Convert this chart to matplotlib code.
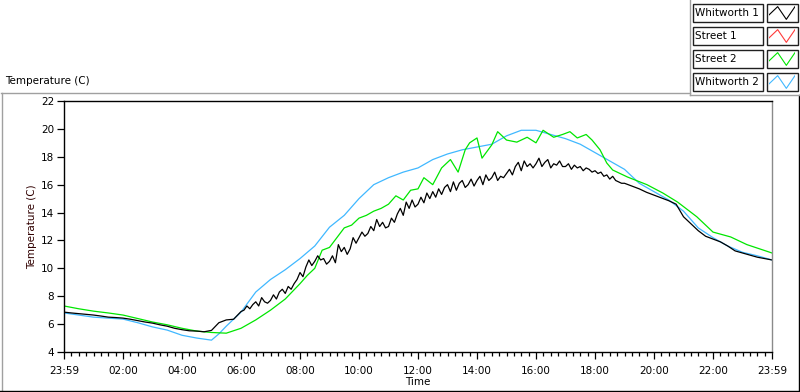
import numpy as np
import matplotlib
matplotlib.use("Agg")
import matplotlib.pyplot as plt
from matplotlib.lines import Line2D
from matplotlib.patches import Rectangle
from matplotlib.ticker import MultipleLocator

# Donnees (heures depuis 23:59, temperature en C)
t_w1 = [0, 0.25, 0.5, 0.75, 1, 1.25, 1.5, 1.75, 2, 2.25, 2.5, 2.75, 3, 3.25, 3.5, 3.75,
        4, 4.25, 4.5, 4.75, 5, 5.25, 5.5, 5.75] + \
       list(np.round(np.arange(6, 19, 0.1), 2)) + \
       [19, 19.25, 19.5, 19.75, 20, 20.25, 20.5, 20.75, 21, 21.25, 21.5, 21.75,
        22, 22.25, 22.5, 22.75, 23, 23.25, 23.5, 23.75, 24]
whitworth1 = [6.86, 6.8, 6.75, 6.7, 6.65, 6.58, 6.5, 6.47, 6.43, 6.35, 6.25, 6.15, 6.07, 5.95, 5.85, 5.7,
              5.6, 5.52, 5.5, 5.45, 5.55, 6.1, 6.3, 6.35,
              6.9, 7.0, 7.3, 7.1, 7.4, 7.6, 7.3, 7.9, 7.6, 7.5,
              7.7, 8.1, 7.8, 8.3, 8.5, 8.2, 8.7, 8.5, 8.9, 9.2,
              9.7, 9.4, 10.1, 10.6, 10.2, 10.5, 10.9, 10.6, 10.7, 10.3,
              10.5, 10.9, 10.4, 11.7, 11.2, 11.5, 11.0, 11.4, 12.2, 11.8,
              12.2, 12.6, 12.3, 12.5, 13.0, 12.7, 13.5, 13.0, 13.3, 12.9,
              13.0, 13.6, 13.3, 13.9, 14.3, 13.8, 14.75, 14.3, 14.9, 14.4,
              14.6, 15.1, 14.7, 15.4, 15.0, 15.5, 15.1, 15.7, 15.3, 15.8,
              16.0, 15.5, 16.2, 15.6, 16.1, 16.3, 15.8, 16.0, 16.4, 15.9,
              16.3, 16.6, 16.0, 16.7, 16.3, 16.5, 16.9, 16.3, 16.6, 16.5,
              16.8, 17.1, 16.7, 17.3, 17.6, 17.0, 17.7, 17.3, 17.5, 17.2,
              17.5, 17.9, 17.3, 17.6, 17.8, 17.2, 17.5, 17.4, 17.7, 17.3,
              17.3, 17.5, 17.1, 17.4, 17.2, 17.3, 17.0, 17.2, 17.1, 16.9,
              17.0, 16.8, 16.9, 16.6, 16.7, 16.4, 16.6, 16.3, 16.2, 16.1,
              16.1, 15.9, 15.7, 15.45, 15.25, 15.05, 14.85, 14.6, 13.7, 13.2, 12.7, 12.3,
              12.1, 11.9, 11.6, 11.25, 11.1, 10.95, 10.8, 10.7, 10.6]

t_s1 = []
street1 = []

t_s2 = [0, 0.5, 1, 1.5, 2, 2.5, 3, 3.5, 4, 4.5, 5, 5.5, 6, 6.5, 7, 7.5, 8, 8.25, 8.5, 8.75,
        9, 9.25, 9.5, 9.75, 10, 10.25, 10.5, 10.75, 11, 11.25, 11.5, 11.75, 12, 12.2, 12.5,
        12.8, 13.1, 13.36, 13.6, 13.75, 14, 14.17, 14.5, 14.7, 15, 15.35, 15.7, 16, 16.24,
        16.6, 16.9, 17.15, 17.4, 17.7, 17.9, 18.17, 18.4, 18.6, 19.1, 19.76, 20.3, 20.8,
        21.45, 22, 22.6, 23.15, 24]
street2 = [7.3, 7.1, 6.93, 6.8, 6.65, 6.4, 6.15, 5.95, 5.7, 5.5, 5.4, 5.35, 5.7, 6.3, 7.0, 7.8,
           8.9, 9.5, 10.0, 11.3, 11.5, 12.2, 12.9, 13.1, 13.6, 13.8, 14.1, 14.3, 14.6, 15.2,
           14.9, 15.6, 15.7, 16.5, 16.0, 17.2, 17.8, 16.9, 18.5, 19.0, 19.35, 17.9, 18.85,
           19.8, 19.2, 19.05, 19.4, 19.0, 19.9, 19.4, 19.6, 19.8, 19.35, 19.6, 19.2, 18.5,
           17.55, 17.05, 16.55, 16.0, 15.4, 14.75, 13.7, 12.6, 12.25, 11.7, 11.1]

t_w2 = [0, 0.5, 1, 1.5, 2, 2.5, 3, 3.5, 4, 4.5, 5, 5.25, 5.5, 6, 6.5, 7, 7.5, 8, 8.5, 9,
        9.5, 10, 10.5, 11, 11.5, 12, 12.5, 13, 13.5, 14, 14.5, 15, 15.5, 16, 16.5, 17,
        17.5, 18, 18.5, 19, 19.5, 20, 20.5, 21, 21.5, 22, 22.5, 23, 23.5, 24]
whitworth2 = [6.8, 6.65, 6.5, 6.43, 6.36, 6.1, 5.8, 5.57, 5.2, 5.0, 4.85, 5.3, 5.85, 6.86,
              8.3, 9.2, 9.9, 10.7, 11.6, 12.95, 13.8, 15.0, 16.0, 16.5, 16.9, 17.2, 17.8,
              18.2, 18.5, 18.7, 18.9, 19.5, 19.9, 19.9, 19.6, 19.3, 18.9, 18.3, 17.7, 17.1,
              16.1, 15.5, 14.9, 14.1, 12.9, 12.2, 11.6, 11.15, 10.9, 10.6]

series = [("Whitworth 1", t_w1, whitworth1, "#000000"),
          ("Street 1", t_s1, street1, "#ff3b3b"),
          ("Street 2", t_s2, street2, "#00e600"),
          ("Whitworth 2", t_w2, whitworth2, "#40b8ff")]

tick_hours = list(range(0, 25, 2))
tick_labels = ["23:59", "02:00", "04:00", "06:00", "08:00", "10:00", "12:00",
               "14:00", "16:00", "18:00", "20:00", "22:00", "23:59"]

plt.rcParams["font.family"] = ["DejaVu Sans"]

fig = plt.figure(figsize=(8, 3.92), dpi=100)
ax = fig.add_axes([64 / 800, 1 - 352 / 392, 708 / 800, 251 / 392])

# ordre de trace : bleu, vert, rouge, noir par-dessus
for nom, t, v, c in [series[3], series[2], series[1], series[0]]:
    ax.plot(t, v, color=c, linewidth=0.9)

ax.set_xlim(0, 24)
ax.set_ylim(4, 22)
ax.set_xticks(tick_hours)
ax.set_xticklabels(tick_labels)
ax.xaxis.set_minor_locator(MultipleLocator(0.25))
ax.yaxis.set_major_locator(MultipleLocator(2))
ax.tick_params(axis="both", which="major", length=5, width=0.9, labelsize=7.5, pad=2)
ax.tick_params(axis="x", which="minor", length=3, width=0.9)
ax.tick_params(axis="x", which="major", pad=5)
for s in ["top", "left", "bottom"]:
    ax.spines[s].set_color("black")
ax.spines["right"].set_color("#8a8a8a")
for s in ax.spines.values():
    s.set_linewidth(1.0)
ax.set_xlabel("Time", fontsize=7.5, labelpad=1)
ax.set_ylabel("Temperature (C)", fontsize=7.5, labelpad=3, color="#300000")

# cadre et titre facon LabVIEW
fig.text(5 / 800, 1 - 81 / 392, "Temperature (C)", fontsize=7.5, va="center", ha="left")
fig.add_artist(Line2D([1 / 800, 690 / 800], [1 - 92.5 / 392] * 2, color="#a0a0a0", lw=1))
fig.add_artist(Line2D([1.5 / 800] * 2, [1 - 92.5 / 392, 1 - 391 / 392], color="#a0a0a0", lw=1))
fig.add_artist(Line2D([0, 1], [1 - 390.5 / 392] * 2, color="black", lw=1))
fig.add_artist(Line2D([798.5 / 800] * 2, [1 - 95 / 392, 1 - 391 / 392], color="black", lw=1))
fig.add_artist(Line2D([689.5 / 800] * 2, [1, 1 - 95 / 392], color="#a0a0a0", lw=1))
fig.add_artist(Line2D([689.5 / 800, 1], [1 - 95 / 392] * 2, color="#a0a0a0", lw=1))

# legende
for i, (nom, t, v, c) in enumerate(series):
    yc = 13 + 23 * i
    fig.add_artist(Rectangle((692.5 / 800, 1 - (yc + 9) / 392), 70 / 800, 18 / 392,
                             transform=fig.transFigure, facecolor="white",
                             edgecolor="#202020", lw=1))
    fig.text(695 / 800, 1 - yc / 392, nom, fontsize=7.5, va="center", ha="left")
    fig.add_artist(Rectangle((766.5 / 800, 1 - (yc + 9) / 392), 31 / 800, 18 / 392,
                             transform=fig.transFigure, facecolor="white",
                             edgecolor="#202020", lw=1))
    sw = fig.add_axes([769 / 800, 1 - (yc + 7) / 392, 26 / 800, 14 / 392])
    sw.set_zorder(3)
    sw.patch.set_alpha(0)
    sw.plot([0, 1, 2, 3], [0.35, 1, 0, 1], color=c, lw=0.8)
    sw.set_xlim(0, 3)
    sw.set_ylim(-0.05, 1.05)
    sw.axis("off")

fig.savefig("out.png", dpi=100)
